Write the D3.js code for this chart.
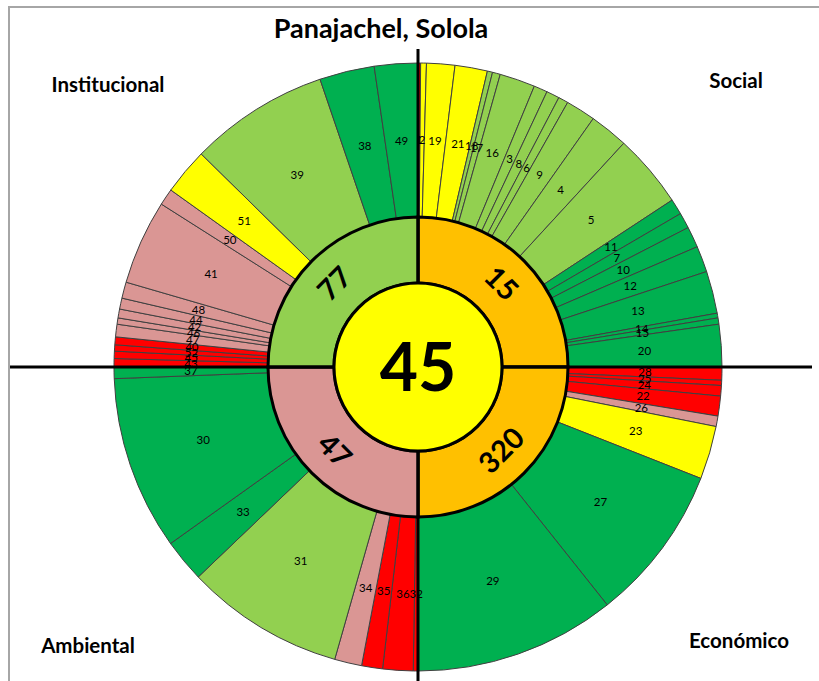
<!DOCTYPE html>
<html>
<head>
<meta charset="utf-8">
<script src="https://cdn.jsdelivr.net/npm/d3@7"></script>
<style>
  body { margin: 0; background: #fff; }
  svg { display: block; font-family: Lato, "Open Sans", sans-serif; }
</style>
</head>
<body>
<div id="wrapper"></div>
<script>
// Data (slice sizes in degrees of each 90 deg quadrant)
const chartTitle = "Panajachel, Solola"
const overallValue = 45

const dimensionNames = ["Social", "Económico", "Ambiental", "Institucional"]
const dimensionTotals = [15, 320, 47, 77]
const dimensionStatus = ["naranja", "naranja", "rosado", "verdeClaro"]

const socialLabels = ["1", "2", "19", "21", "18", "17", "16", "3", "8", "6", "9", "4", "5", "11", "7", "10", "12", "13", "14", "15", "20"]
const socialValues = [0.5, 1.1, 5.4, 6.2, 1.0, 1.5, 6.8, 2.6, 2.5, 1.9, 5.7, 7.4, 14.1, 3.0, 3.0, 4.0, 5.0, 8.1, 0.9, 1.2, 8.1]
const socialStatus = ["rojo", "amarillo", "amarillo", "amarillo", "verdeClaro", "verdeClaro", "verdeClaro", "verdeClaro", "verdeClaro", "verdeClaro", "verdeClaro", "verdeClaro", "verdeClaro", "verde", "verde", "verde", "verde", "verde", "verde", "verde", "verde"]

const economicoLabels = ["28", "25", "24", "22", "26", "23", "27", "29"]
const economicoValues = [2.5, 1.0, 2.0, 3.8, 2.0, 10.2, 30.0, 38.5]
const economicoStatus = ["rojo", "rojo", "rojo", "rojo", "rosado", "amarillo", "verde", "verde"]

const ambientalLabels = ["32", "36", "35", "34", "31", "33", "30", "37"]
const ambientalValues = [0.9, 5.8, 4.0, 5.2, 30.4, 8.2, 33.3, 2.2]
const ambientalStatus = ["rojo", "rojo", "rojo", "rosado", "verdeClaro", "verde", "verde", "verde"]

const institucionalLabels = ["43", "45", "52", "40", "47", "46", "42", "44", "48", "41", "50", "51", "39", "38", "49"]
const institucionalValues = [1.6, 1.4, 1.2, 1.5, 2.4, 1.2, 1.7, 2.1, 3.1, 16.2, 3.2, 8.9, 26.7, 10.5, 8.3]
const institucionalStatus = ["rojo", "rojo", "rojo", "rojo", "rosado", "rosado", "rosado", "rosado", "rosado", "rosado", "rosado", "amarillo", "verdeClaro", "verde", "verde"]

function drawChart() {

  // 1. Access data
  const quadrants = [
    { labels: socialLabels, values: socialValues, status: socialStatus },
    { labels: economicoLabels, values: economicoValues, status: economicoStatus },
    { labels: ambientalLabels, values: ambientalValues, status: ambientalStatus },
    { labels: institucionalLabels, values: institucionalValues, status: institucionalStatus },
  ]

  // 2. Create chart dimensions
  const dims = {
    width: 819,
    height: 681,
    cx: 418,
    cy: 367,
    centerRadius: 84,
    innerRadius: 150,
    outerRadius: 304,
  }

  // 3. Draw canvas
  const wrapper = d3.select("#wrapper")
    .append("svg")
      .attr("width", dims.width)
      .attr("height", dims.height)

  // frame
  wrapper.append("path")
      .attr("d", `M9,${dims.height} V7 H${dims.width}`)
      .attr("fill", "none")
      .attr("stroke", "#a6a6a6")
      .attr("stroke-width", 2)

  const bounds = wrapper.append("g")
      .attr("transform", `translate(${dims.cx}, ${dims.cy})`)

  // 4. Create scales
  const colorScale = d3.scaleOrdinal()
    .domain(["rojo", "amarillo", "rosado", "verdeClaro", "verde", "naranja"])
    .range(["#ff0000", "#ffff00", "#da9694", "#92d050", "#00b050", "#ffc000"])

  const quarter = Math.PI / 2

  // 5. Draw data
  const outerArc = d3.arc()
    .innerRadius(dims.innerRadius)
    .outerRadius(dims.outerRadius)

  const labelArc = d3.arc()
    .innerRadius((dims.innerRadius + dims.outerRadius) / 2)
    .outerRadius((dims.innerRadius + dims.outerRadius) / 2)

  quadrants.forEach((q, i) => {
    const pie = d3.pie()
      .sort(null)
      .value(d => d.value)
      .startAngle(i * quarter)
      .endAngle((i + 1) * quarter)

    const rows = q.labels.map((label, j) => ({
      label, value: q.values[j], status: q.status[j],
    }))
    const arcs = pie(rows)

    const g = bounds.append("g")
    g.selectAll("path")
      .data(arcs)
      .join("path")
        .attr("d", outerArc)
        .attr("fill", d => colorScale(d.data.status))
        .attr("stroke", "#404040")
        .attr("stroke-width", 1)

    g.selectAll("text")
      .data(arcs)
      .join("text")
        .attr("transform", d => `translate(${labelArc.centroid(d)})`)
        .attr("text-anchor", "middle")
        .attr("dy", "0.35em")
        .attr("font-size", 11.5)
        .attr("fill", "#000")
        .text(d => d.data.label)
  })

  // inner ring: one piece per dimension
  const innerArc = d3.arc()
    .innerRadius(dims.centerRadius)
    .outerRadius(dims.innerRadius)

  const innerPie = d3.pie()
    .sort(null)
    .value(() => 1)

  const innerArcs = innerPie(dimensionNames.map((name, i) => ({
    name, total: dimensionTotals[i], status: dimensionStatus[i],
  })))

  bounds.append("g").selectAll("path")
    .data(innerArcs)
    .join("path")
      .attr("d", innerArc)
      .attr("fill", d => colorScale(d.data.status))
      .attr("stroke", "#000")
      .attr("stroke-width", 3)

  const innerLabelArc = d3.arc()
    .innerRadius(118)
    .outerRadius(118)

  bounds.append("g").selectAll("text")
    .data(innerArcs)
    .join("text")
      .attr("transform", d => {
        const [x, y] = innerLabelArc.centroid(d)
        let rot = (d.startAngle + d.endAngle) / 2 * 180 / Math.PI
        if (rot > 90 && rot < 270) rot -= 180
        return `translate(${x}, ${y}) rotate(${rot})`
      })
      .attr("text-anchor", "middle")
      .attr("dy", "0.35em")
      .attr("font-size", 29)
      .attr("font-weight", 700)
      .attr("fill", "#000")
      .text(d => d.data.total)

  // 6. Draw peripherals
  // cross lines
  bounds.append("line")
      .attr("x1", -408).attr("x2", 394)
      .attr("y1", 0).attr("y2", 0)
      .attr("stroke", "#000")
      .attr("stroke-width", 3)
  bounds.append("line")
      .attr("x1", 0).attr("x2", 0)
      .attr("y1", -318).attr("y2", dims.height - dims.cy)
      .attr("stroke", "#000")
      .attr("stroke-width", 3)

  // center circle
  bounds.append("circle")
      .attr("r", dims.centerRadius)
      .attr("fill", "#ffff00")
      .attr("stroke", "#000")
      .attr("stroke-width", 3)

  bounds.append("text")
      .attr("text-anchor", "middle")
      .attr("dy", "0.36em")
      .attr("font-size", 66)
      .attr("font-weight", 700)
      .attr("fill", "#000")
      .text(overallValue)

  // title
  wrapper.append("text")
      .attr("x", dims.cx - 37)
      .attr("y", 38)
      .attr("text-anchor", "middle")
      .attr("font-size", 27)
      .attr("font-weight", 700)
      .text(chartTitle)

  // dimension names in the corners
  const cornerOffsets = [[318, -286], [321, 274], [-330, 279], [-310, -282]]
  bounds.append("g").selectAll("text")
    .data(dimensionNames)
    .join("text")
      .attr("x", (d, i) => cornerOffsets[i][0])
      .attr("y", (d, i) => cornerOffsets[i][1])
      .attr("text-anchor", "middle")
      .attr("dy", "0.35em")
      .attr("font-size", 20.5)
      .attr("font-weight", 700)
      .text(d => d)
}

drawChart()
</script>
</body>
</html>
